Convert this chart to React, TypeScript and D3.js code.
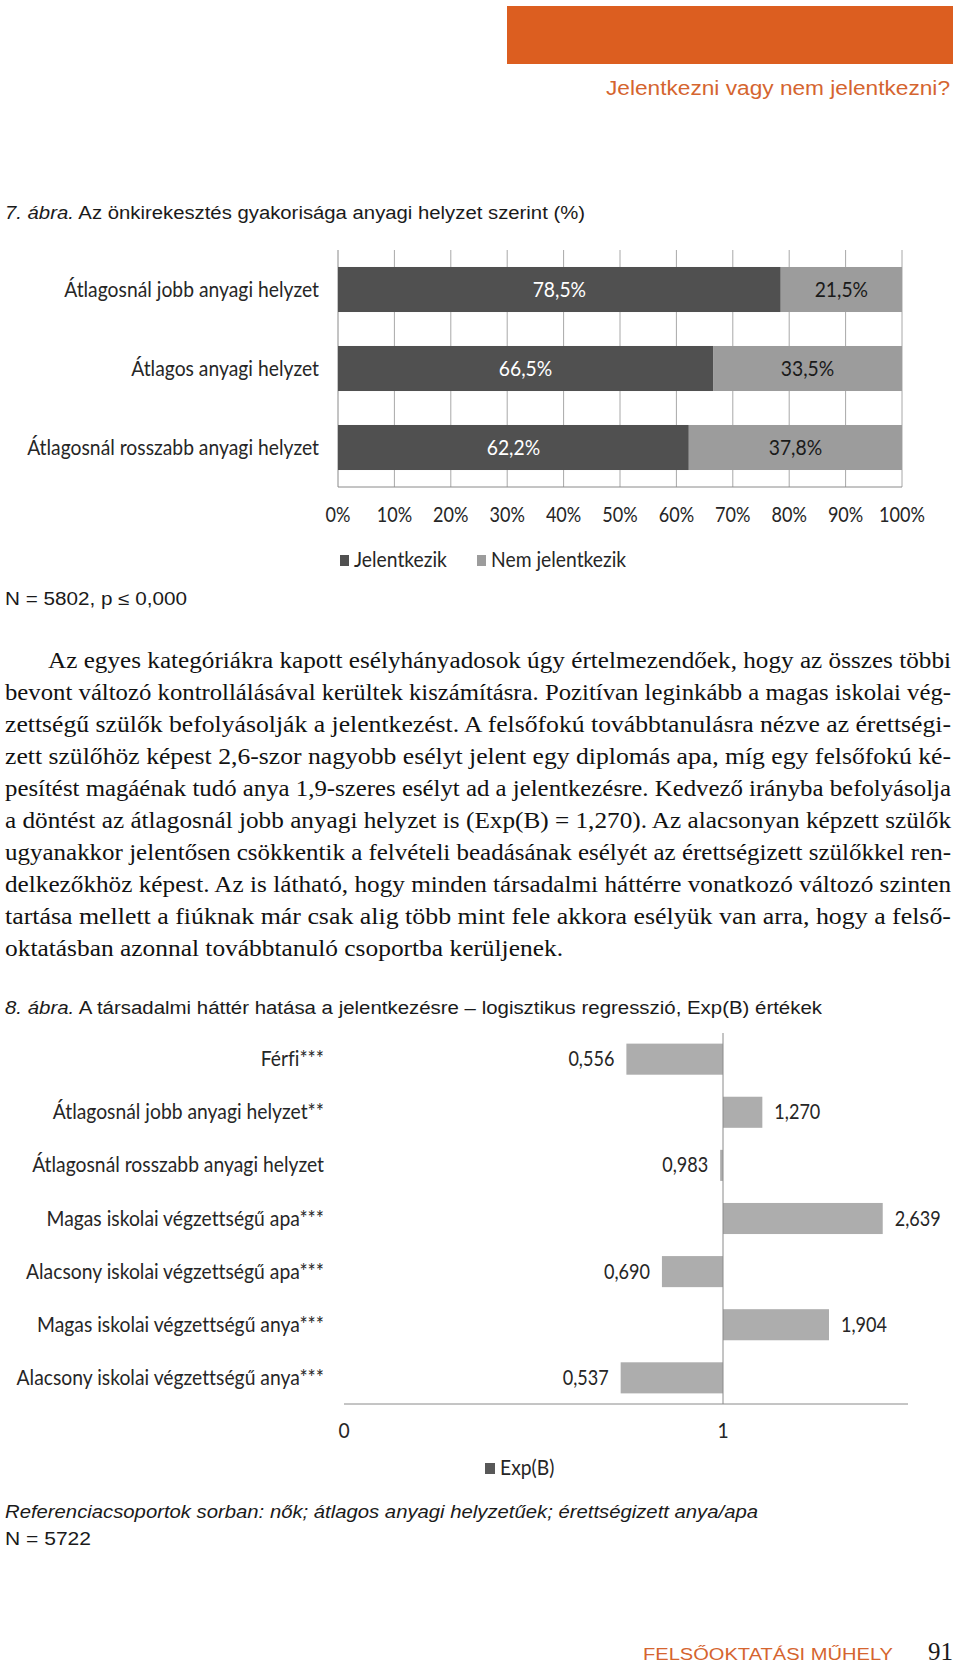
import React, { useEffect } from 'react';
import * as d3 from 'd3';

// 7. ábra
const finCats = ['Átlagosnál jobb anyagi helyzet', 'Átlagos anyagi helyzet', 'Átlagosnál rosszabb anyagi helyzet'];
const seriesNames = ['Jelentkezik', 'Nem jelentkezik'];
const jelentkezik = [78.5, 66.5, 62.2];
const nemJelentkezik = [21.5, 33.5, 37.8];
const pctTicks = [0, 10, 20, 30, 40, 50, 60, 70, 80, 90, 100];

// 8. ábra
const expCats = [
  'Férfi***',
  'Átlagosnál jobb anyagi helyzet**',
  'Átlagosnál rosszabb anyagi helyzet',
  'Magas iskolai végzettségű apa***',
  'Alacsony iskolai végzettségű apa***',
  'Magas iskolai végzettségű anya***',
  'Alacsony iskolai végzettségű anya***',
];
const expB = [0.556, 1.27, 0.983, 2.639, 0.69, 1.904, 0.537];
const expTicks = [0.1, 1];

const paragraph = [
  'Az egyes kategóriákra kapott esélyhányadosok úgy értelmezendőek, hogy az összes többi',
  'bevont változó kontrollálásával kerültek kiszámításra. Pozitívan leginkább a magas iskolai vég-',
  'zettségű szülők befolyásolják a jelentkezést. A felsőfokú továbbtanulásra nézve az érettségi-',
  'zett szülőhöz képest 2,6-szor nagyobb esélyt jelent egy diplomás apa, míg egy felsőfokú ké-',
  'pesítést magáénak tudó anya 1,9-szeres esélyt ad a jelentkezésre. Kedvező irányba befolyásolja',
  'a döntést az átlagosnál jobb anyagi helyzet is (Exp(B) = 1,270). Az alacsonyan képzett szülők',
  'ugyanakkor jelentősen csökkentik a felvételi beadásának esélyét az érettségizett szülőkkel ren-',
  'delkezőkhöz képest. Az is látható, hogy minden társadalmi háttérre vonatkozó változó szinten',
  'tartása mellett a fiúknak már csak alig több mint fele akkora esélyük van arra, hogy a felső-',
  'oktatásban azonnal továbbtanuló csoportba kerüljenek.',
];

const HU = d3.formatLocale({ decimal: ',', thousands: ' ', grouping: [3], currency: ['', ' Ft'] });
const fmtPct = HU.format('.1f');
const fmtExp = HU.format('.3f');
const fmtTick = HU.format('.0f');

const CAL = 'Lato, "Open Sans", sans-serif';
const SANS = '"Liberation Sans", Arial, sans-serif';
const SERIF = '"Liberation Serif", "Times New Roman", serif';
const ORANGE = '#d5652f';

// condensed-looking chart text (stands in for Calibri)
function T({ x, y, children, sx = 0.92, anchor = 'start', size = 21, fill = '#262626', family = CAL }: any) {
  return (
    <text
      transform={`translate(${x},${y}) scale(${sx},1)`}
      textAnchor={anchor}
      fontSize={size}
      fontFamily={family}
      fill={fill}
      style={{ fontVariantLigatures: 'none' }}
    >
      {children}
    </text>
  );
}

export default function App() {
  useEffect(() => {
    document.body.style.margin = '0';
  }, []);

  // chart 1 scales
  const x1 = d3.scaleLinear().domain([0, 100]).range([338, 902]);
  const y1 = d3.scaleBand().domain(finCats).range([250, 487]).paddingInner(0.43).paddingOuter(0.215);
  const rows = finCats.map((c, i) => ({ cat: c, Jelentkezik: jelentkezik[i], 'Nem jelentkezik': nemJelentkezik[i] }));
  const stacked = d3.stack<any>().keys(seriesNames)(rows);
  const colors1 = ['#505050', '#9c9c9c'];
  const labelColors1 = ['#ffffff', '#1a1a1a'];

  // chart 2 scales (log axis, Excel shows 0.1 as "0")
  const x2 = d3.scaleLog().domain([0.1, 1]).range([344, 723]);
  const y2 = d3.scaleBand().domain(expCats).range([1033, 1404]).paddingInner(0.415).paddingOuter(0.2);
  const plot2Right = 908;

  return (
    <svg width={960} height={1665} style={{ display: 'block', background: '#fff' }}>
      {/* page header */}
      <rect x={507} y={6} width={446} height={58} fill="#dc5e20" />
      <text x={950} y={95} textAnchor="end" fontSize={20} fontFamily={SANS} fill={ORANGE} textLength={344} lengthAdjust="spacingAndGlyphs">
        Jelentkezni vagy nem jelentkezni?
      </text>

      {/* figure 7 title */}
      <text x={5} y={219} fontSize={18} fontFamily={SANS} fill="#1a1a1a" textLength={580} lengthAdjust="spacingAndGlyphs">
        <tspan fontStyle="italic">7. ábra.</tspan> Az önkirekesztés gyakorisága anyagi helyzet szerint (%)
      </text>

      {/* chart 1 grid */}
      {pctTicks.map((t) => (
        <line key={t} x1={x1(t)} x2={x1(t)} y1={250} y2={487} stroke={t === 0 ? '#8a8a8a' : '#a8a8a8'} strokeWidth={1} />
      ))}
      {stacked.map((s, si) =>
        s.map((d: any) => (
          <rect key={si + d.data.cat} x={x1(d[0])} y={y1(d.data.cat)} width={x1(d[1]) - x1(d[0])} height={y1.bandwidth()} fill={colors1[si]} />
        ))
      )}
      <line x1={x1(0)} x2={x1(100)} y1={487} y2={487} stroke="#8a8a8a" />
      {stacked.map((s, si) =>
        s.map((d: any) => (
          <T key={'l' + si + d.data.cat} x={(x1(d[0]) + x1(d[1])) / 2} y={(y1(d.data.cat) as number) + y1.bandwidth() / 2 + 7} anchor="middle" fill={labelColors1[si]}>
            {fmtPct(d[1] - d[0]) + '%'}
          </T>
        ))
      )}
      {finCats.map((c) => (
        <T key={c} x={319} y={(y1(c) as number) + y1.bandwidth() / 2 + 7} anchor="end">
          {c}
        </T>
      ))}
      {pctTicks.map((t) => (
        <T key={'t' + t} x={x1(t)} y={522} anchor="middle" sx={0.86}>
          {t + '%'}
        </T>
      ))}
      {/* legend 1 */}
      <rect x={340} y={555} width={9} height={11} fill={colors1[0]} />
      <T x={354} y={567}>{seriesNames[0]}</T>
      <rect x={477} y={555} width={9} height={11} fill={colors1[1]} />
      <T x={491} y={567}>{seriesNames[1]}</T>

      <text x={5} y={605} fontSize={18} fontFamily={SANS} fill="#1a1a1a" textLength={182} lengthAdjust="spacingAndGlyphs">
        N = 5802, p ≤ 0,000
      </text>

      {/* body text */}
      {paragraph.map((line, i) => {
        const last = i === paragraph.length - 1;
        const x = i === 0 ? 48 : 5;
        return (
          <text
            key={i}
            x={x}
            y={668 + i * 32}
            fontSize={23}
            fontFamily={SERIF}
            fill="#111"
            textLength={last ? 558 : 951 - x}
            lengthAdjust="spacingAndGlyphs"
          >
            {line}
          </text>
        );
      })}

      {/* figure 8 title */}
      <text x={5} y={1014} fontSize={18} fontFamily={SANS} fill="#1a1a1a" textLength={817} lengthAdjust="spacingAndGlyphs">
        <tspan fontStyle="italic">8. ábra.</tspan> A társadalmi háttér hatása a jelentkezésre – logisztikus regresszió, Exp(B) értékek
      </text>

      {/* chart 2 */}
      {expCats.map((c, i) => {
        const v = expB[i];
        const xa = x2(v);
        const xb = x2(1);
        return (
          <rect key={c} x={Math.min(xa, xb)} y={y2(c)} width={Math.abs(xa - xb)} height={y2.bandwidth()} fill="#adadad" />
        );
      })}
      <line x1={x2(1)} x2={x2(1)} y1={1033} y2={1404} stroke="#8a8a8a" />
      <line x1={x2(0.1)} x2={plot2Right} y1={1404} y2={1404} stroke="#8a8a8a" />
      {expCats.map((c, i) => {
        const v = expB[i];
        const cy = (y2(c) as number) + y2.bandwidth() / 2 + 7;
        return v < 1 ? (
          <T key={'v' + c} x={x2(v) - 12} y={cy} anchor="end" sx={0.86}>
            {fmtExp(v)}
          </T>
        ) : (
          <T key={'v' + c} x={x2(v) + 12} y={cy} sx={0.86}>
            {fmtExp(v)}
          </T>
        );
      })}
      {expCats.map((c) => (
        <T key={'c' + c} x={324} y={(y2(c) as number) + y2.bandwidth() / 2 + 7} anchor="end">
          {c}
        </T>
      ))}
      {expTicks.map((t) => (
        <T key={'x' + t} x={x2(t)} y={1438} anchor="middle">
          {fmtTick(t)}
        </T>
      ))}
      <rect x={485} y={1463} width={10} height={11} fill="#585858" />
      <T x={500} y={1475}>Exp(B)</T>

      {/* notes */}
      <text x={5} y={1518} fontSize={18} fontFamily={SANS} fontStyle="italic" fill="#1a1a1a" textLength={753} lengthAdjust="spacingAndGlyphs">
        Referenciacsoportok sorban: nők; átlagos anyagi helyzetűek; érettségizett anya/apa
      </text>
      <text x={5} y={1545} fontSize={18} fontFamily={SANS} fill="#1a1a1a" textLength={86} lengthAdjust="spacingAndGlyphs">
        N = 5722
      </text>

      {/* footer */}
      <text x={643} y={1660} fontSize={16} fontFamily={SANS} fill={ORANGE} textLength={250} lengthAdjust="spacingAndGlyphs">
        FELSŐOKTATÁSI  MŰHELY
      </text>
      <text x={953} y={1660} textAnchor="end" fontSize={25} fontFamily={SERIF} fill="#1a1a1a">
        91
      </text>
    </svg>
  );
}
